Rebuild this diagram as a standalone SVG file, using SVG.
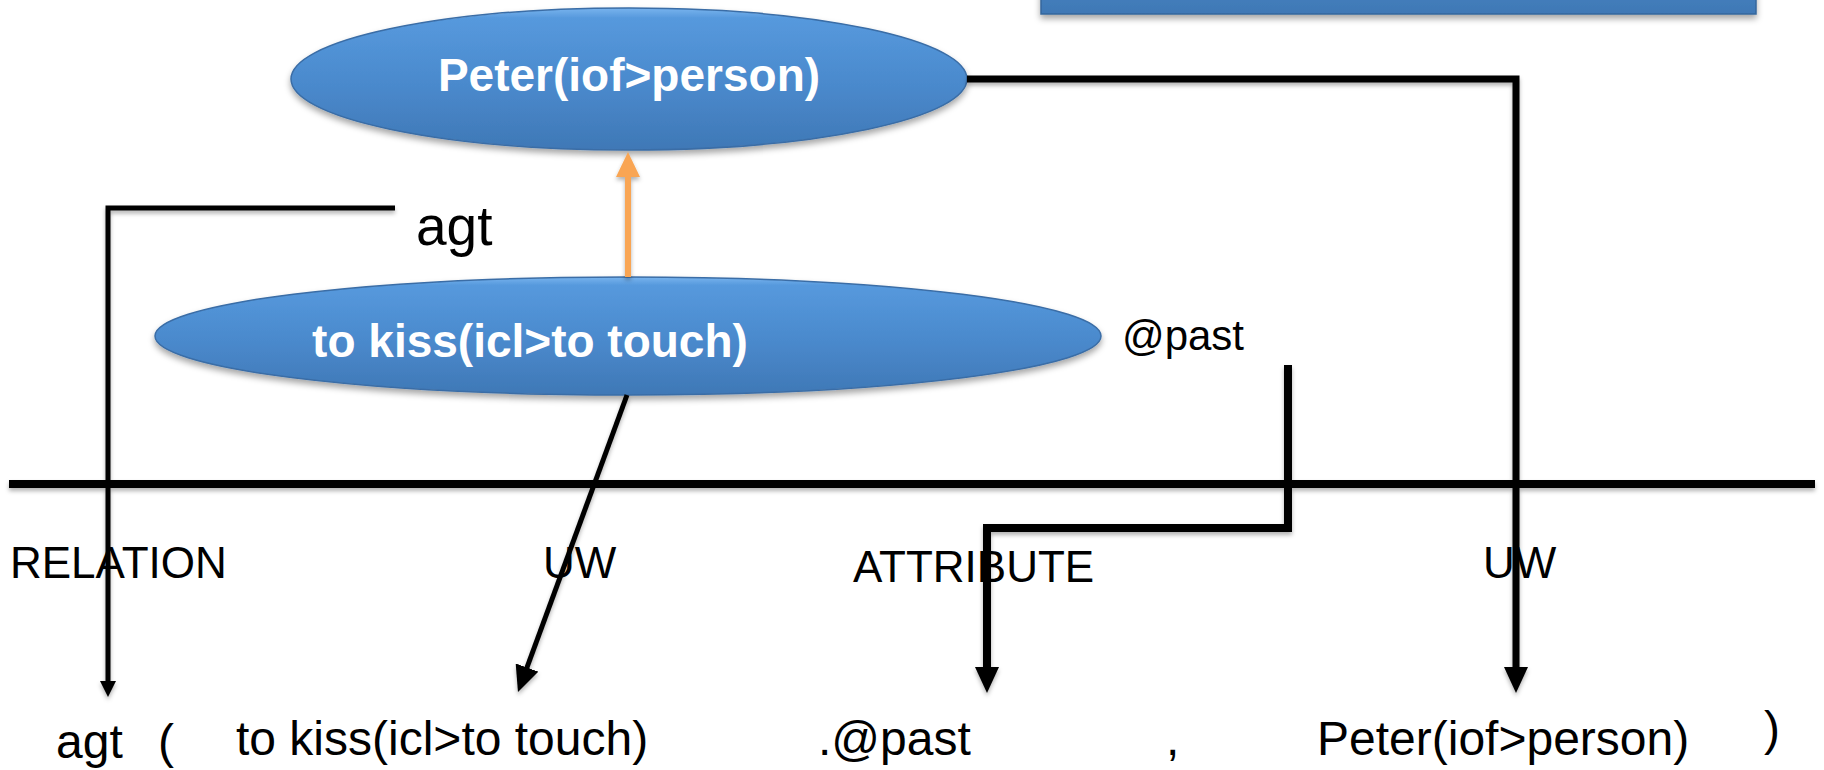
<svg xmlns="http://www.w3.org/2000/svg" width="1824" height="770" viewBox="0 0 1824 770">
<style>
.nodeTxt{font-family:"Liberation Sans",Arial,sans-serif;font-weight:bold;font-size:46px;fill:#ffffff;text-anchor:middle}
.lbl{font-family:"Liberation Sans",Arial,sans-serif;fill:#000000}
.cat{font-size:44px}
.row{font-size:48px}
.ln{fill:none;stroke:#000000;stroke-linejoin:miter;stroke-linecap:butt}
</style>
<defs>
<linearGradient id="blue" x1="0" y1="0" x2="0" y2="1">
<stop offset="0" stop-color="#79b4ee"/>
<stop offset="0.07" stop-color="#5699dd"/>
<stop offset="0.55" stop-color="#4a89cc"/>
<stop offset="1" stop-color="#3f78b6"/>
</linearGradient>
<linearGradient id="blueRect" x1="0" y1="0" x2="0" y2="1">
<stop offset="0" stop-color="#4d89c8"/>
<stop offset="1" stop-color="#3f78b5"/>
</linearGradient>
<filter id="shadow" x="-10%" y="-20%" width="120%" height="150%">
<feDropShadow dx="0" dy="4" stdDeviation="3" flood-color="#000000" flood-opacity="0.35"/>
</filter>
<filter id="lshadow" x="-5%" y="-5%" width="110%" height="110%">
<feDropShadow dx="0" dy="3" stdDeviation="2" flood-color="#000000" flood-opacity="0.3"/>
</filter>
<marker id="arrowBig" markerUnits="userSpaceOnUse" viewBox="0 0 26 24" markerWidth="26" markerHeight="24" refX="1" refY="12" orient="auto">
<path d="M0,0 L26,12 L0,24 z" fill="#000000"/>
</marker>
<marker id="arrowSmall" markerUnits="userSpaceOnUse" viewBox="0 0 16 16" markerWidth="16" markerHeight="16" refX="1" refY="8" orient="auto">
<path d="M0,0 L16,8 L0,16 z" fill="#000000"/>
</marker>
<marker id="arrowOrange" markerUnits="userSpaceOnUse" viewBox="0 0 25 24" markerWidth="25" markerHeight="24" refX="1" refY="12" orient="auto">
<path d="M0,0 L25,12 L0,24 z" fill="#f9a553"/>
</marker>
</defs>
<rect width="1824" height="770" fill="#ffffff"/>

<g id="top-bar">
<rect x="1041" y="-40" width="715" height="54" fill="url(#blueRect)" stroke="#35679c" stroke-width="1.5" filter="url(#shadow)"/>
</g>

<g id="node-peter">
<ellipse cx="629" cy="79" rx="338" ry="71" fill="url(#blue)" stroke="#3a6da6" stroke-width="1.5" filter="url(#shadow)"/>
<text class="nodeTxt" x="629" y="91">Peter(iof&gt;person)</text>
</g>

<g id="node-kiss">
<ellipse cx="628" cy="336" rx="473" ry="59" fill="url(#blue)" stroke="#3a6da6" stroke-width="1.5" filter="url(#shadow)"/>
<text class="nodeTxt" x="530" y="357">to kiss(icl&gt;to touch)</text>
</g>

<g id="connectors" filter="url(#lshadow)">
<line class="ln" x1="9" y1="484" x2="1815" y2="484" stroke-width="8"/>
<polyline class="ln" points="395,208 108,208 108,682" stroke-width="5" marker-end="url(#arrowSmall)"/>
<polyline class="ln" points="967,79 1516,79 1516,668" stroke-width="7" marker-end="url(#arrowBig)"/>
<polyline class="ln" points="1288,365 1288,528 987,528 987,668" stroke-width="8" marker-end="url(#arrowBig)"/>
<line class="ln" x1="627" y1="395" x2="526.6" y2="668.5" stroke-width="5" marker-end="url(#arrowBig)"/>
<line x1="628" y1="277" x2="628" y2="176" stroke="#f9a553" stroke-width="6" marker-end="url(#arrowOrange)"/>
</g>

<g id="label-agt">
<text class="lbl" x="416" y="245" font-size="55">agt</text>
</g>
<g id="label-past">
<text class="lbl" x="1122" y="350" font-size="42">@past</text>
</g>

<g id="categories">
<text class="lbl cat" x="10" y="578">RELATION</text>
<text class="lbl cat" x="543" y="578">UW</text>
<text class="lbl cat" x="853" y="582">ATTRIBUTE</text>
<text class="lbl cat" x="1483" y="578">UW</text>
</g>

<g id="expression">
<text class="lbl row" x="56" y="758">agt</text>
<text class="lbl row" x="158" y="758">(</text>
<text class="lbl row" x="236" y="755">to kiss(icl&gt;to touch)</text>
<text class="lbl row" x="818" y="755">.@past</text>
<text class="lbl row" x="1166" y="755">,</text>
<text class="lbl row" x="1317" y="755">Peter(iof&gt;person)</text>
<text class="lbl row" x="1764" y="745">)</text>
</g>
</svg>
